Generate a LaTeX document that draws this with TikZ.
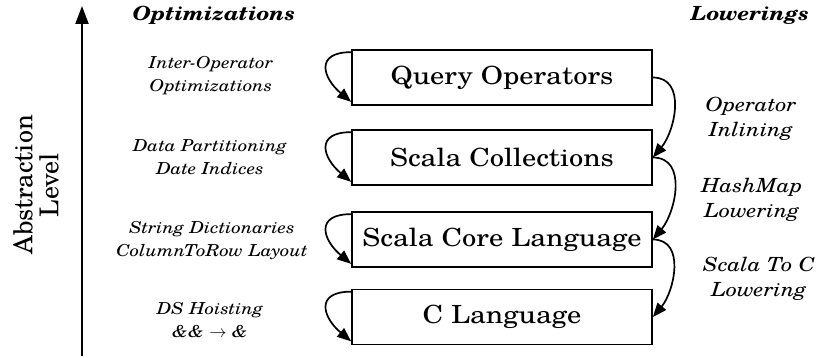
\documentclass[tikz,border=0pt]{standalone}
\usepackage{fontspec}
\setmainfont{TeX Gyre Schola}[FakeStretch=1.14]
\newfontfamily\plainschola{TeX Gyre Schola}
\usetikzlibrary{arrows.meta}
\begin{document}
\begin{tikzpicture}[x=1pt,y=-1pt,
  box/.style={draw, line width=1.7pt, minimum width=300pt, minimum height=55pt, inner sep=0pt, font=\fontsize{25}{30}\selectfont},
  opt/.style={align=center, font=\fontsize{16.5}{23}\selectfont\itshape},
  low/.style={align=center, font=\fontsize{19.5}{25}\selectfont\itshape},
  head/.style={font=\fontsize{19.5}{22}\selectfont\bfseries\itshape},
  arr/.style={line width=1.7pt, -{Triangle[length=14pt,width=11pt]}},
]
\useasboundingbox (0,0) rectangle (818,358);
\node[box] (q) at (502,77.5) {Query Operators};
\node[box] (c) at (502,157.5) {Scala Collections};
\node[box] (s) at (502,239.5) {Scala Core Language};
\node[box] (l) at (502,317) {C Language};

\coordinate (abot) at (82,356);
\coordinate (atop) at (82,6);
\draw[line width=2.2pt, -{Triangle[length=18pt,width=13pt]}] (abot) -- (atop);
\node[rotate=90, align=center, font=\plainschola\fontsize{26}{26}\selectfont] (abs) at (36,185) {Abstraction\\Level};

\node[head] (ho) at (214,15) {Optimizations};
\node[head] (hl) at (750,15) {Lowerings};

\node[opt] (o1) at (211,76) {Inter-Operator\\Optimizations};
\node[opt] (o2) at (210,157) {Data Partitioning\\Date Indices};
\node[opt] (o3) at (212,241) {String Dictionaries\\ColumnToRow Layout};
\node[opt] (o4) at (210,320) {DS Hoisting\\\&\& $\rightarrow$ \&};

\node[low] (w1) at (751,119) {Operator\\Inlining};
\node[low] (w2) at (752,200) {HashMap\\Lowering};
\node[low] (w3) at (759,279) {Scala To C\\Lowering};

\foreach \b in {q,c,s,l}{
  \draw[arr] ([yshift=-3pt]\b.north west) to[out=180,in=140,looseness=1.9] ([yshift=4pt]\b.south west);
}
\draw[arr] (q.east) to[out=0,in=50,looseness=1.1] (c.east);
\draw[arr] (c.east) to[out=0,in=50,looseness=1.1] (s.east);
\draw[arr] (s.east) to[out=0,in=50,looseness=1.1] (l.east);
\end{tikzpicture}
\end{document}
